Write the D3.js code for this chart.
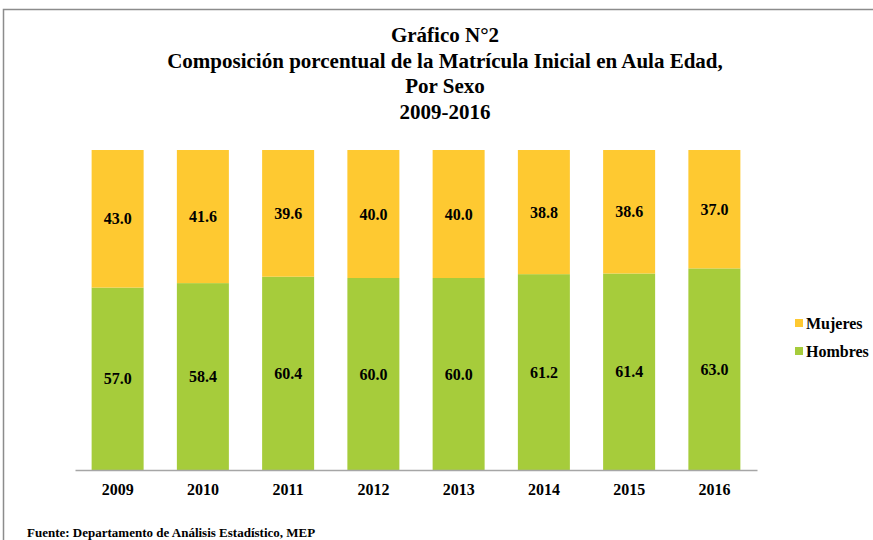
<!DOCTYPE html>
<html>
<head>
<meta charset="utf-8">
<script src="https://cdn.jsdelivr.net/npm/d3@7"></script>
<style>
body { margin: 0; background: #fff; }
.lbl { font-family: 'Liberation Serif'; font-weight: bold; }
</style>
</head>
<body>
<div id="chart"></div>
<script>
var years = ["2009", "2010", "2011", "2012", "2013", "2014", "2015", "2016"];
var hombres = [57.0, 58.4, 60.4, 60.0, 60.0, 61.2, 61.4, 63.0];
var mujeres = [43.0, 41.6, 39.6, 40.0, 40.0, 38.8, 38.6, 37.0];
var seriesNames = ["Hombres", "Mujeres"];
var colors = { Hombres: "#a6cc3b", Mujeres: "#fec931" };
var titleLines = [
	"Gráfico N°2",
	"Composición porcentual de la Matrícula Inicial en Aula Edad,",
	"Por Sexo",
	"2009-2016",
];

var width = 873;
var height = 540;
var margin = { top: 150, left: 75, right: 116, bottom: 70 };

var svg = d3
	.select("#chart")
	.append("svg")
	.attr("width", width)
	.attr("height", height);

// frame
svg.append("path")
	.attr("d", "M3.5," + height + "V9.5H" + width)
	.style("fill", "none")
	.style("stroke", "#8c8c8c")
	.style("stroke-width", 1.5);

var rows = years.map(function (y, i) {
	return { year: y, Hombres: hombres[i], Mujeres: mujeres[i] };
});
var stacked = d3.stack().keys(seriesNames)(rows);

var xScale = d3
	.scaleBand()
	.domain(years)
	.range([margin.left, width - margin.right])
	.paddingInner(0.39)
	.paddingOuter(0.195);

var yScale = d3
	.scaleLinear()
	.domain([0, 100])
	.range([height - margin.bottom, margin.top]);

var layers = svg
	.selectAll("g.layer")
	.data(stacked)
	.enter()
	.append("g")
	.attr("class", "layer");

layers
	.selectAll("rect")
	.data((d) => d.map((p) => Object.assign(p, { key: d.key })))
	.enter()
	.append("rect")
	.attr("x", (d) => xScale(d.data.year))
	.attr("width", xScale.bandwidth())
	.attr("y", (d) => yScale(d[1]))
	.attr("height", (d) => yScale(d[0]) - yScale(d[1]))
	.style("fill", (d) => colors[d.key]);

// value labels: font via attribute
layers
	.selectAll("text")
	.data((d) => d)
	.enter()
	.append("text")
	.attr("x", (d) => xScale(d.data.year) + xScale.bandwidth() / 2)
	.attr("y", (d) => (yScale(d[0]) + yScale(d[1])) / 2)
	.attr("dy", "0.35em")
	.attr("text-anchor", "middle")
	.attr("font-family", "Liberation Serif")
	.attr("font-weight", "bold")
	.attr("font-size", 16)
	.text((d) => (d[1] - d[0]).toFixed(1));

// axis: font via class
var xAxis = d3.axisBottom(xScale).tickSize(0).tickPadding(14);
var axisG = svg
	.append("g")
	.attr("transform", "translate(0," + (height - margin.bottom) + ")")
	.call(xAxis)
	.attr("font-family", null);
axisG.select(".domain").style("stroke", "#a6a6a6").style("stroke-width", 1.5);
axisG.selectAll("text").attr("class", "lbl").style("font-size", "16px");

// title: font via inline style, like the test
titleLines.forEach(function (t, i) {
	svg.append("text")
		.attr("x", 445)
		.attr("y", 42 + i * 25.5)
		.style("text-anchor", "middle")
		.style("font-family", "'Liberation Serif'")
		.style("font-weight", "bold")
		.style("font-size", "21px")
		.text(t);
});

// legend
var legendItems = ["Mujeres", "Hombres"];
var legend = svg
	.selectAll("g.legend")
	.data(legendItems)
	.enter()
	.append("g")
	.attr("class", "legend")
	.attr("transform", (d, i) => "translate(795," + (323 + i * 28) + ")");
legend
	.append("rect")
	.attr("x", 0)
	.attr("y", -4)
	.attr("width", 8)
	.attr("height", 8)
	.style("fill", (d) => colors[d]);
legend
	.append("text")
	.attr("x", 11)
	.attr("dy", "0.35em")
	.attr("font-family", "Liberation Serif")
	.attr("font-weight", "bold")
	.attr("font-size", 16)
	.text((d) => d);

// source
svg.append("text")
	.attr("x", 27)
	.attr("y", 537)
	.attr("font-family", "Liberation Serif")
	.attr("font-weight", "bold")
	.attr("font-size", 13)
	.text("Fuente: Departamento de Análisis Estadístico, MEP");
</script>
</body>
</html>
